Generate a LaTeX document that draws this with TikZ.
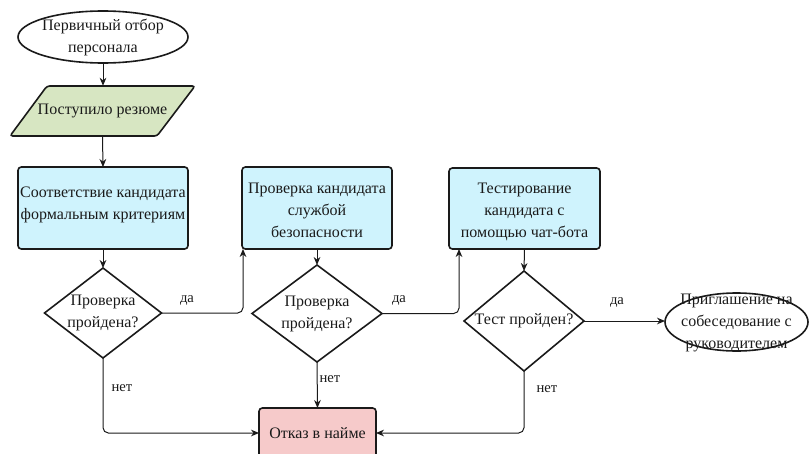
\documentclass[tikz,border=0pt]{standalone}
\usepackage{fontspec}
\setmainfont{Liberation Serif}
\usetikzlibrary{shapes.geometric,arrows.meta,calc}
\definecolor{cgreen}{HTML}{D7E6C2}
\definecolor{ccyan}{HTML}{CFF3FD}
\definecolor{cpink}{HTML}{F6CACA}
\definecolor{cline}{HTML}{1A1A1A}
\tikzset{
  shp/.style={draw=cline, line width=1.2pt, inner sep=0pt, outer sep=0pt},
  txt/.style={font=\fontsize{12}{16.5}\selectfont, align=center, inner sep=0pt, text=cline},
  stepbox/.style={shp, rectangle, rounded corners=2.5pt},
  oval/.style={shp, ellipse},
  dia/.style={shp, diamond},
  conn/.style={draw=cline, line width=0.75pt, rounded corners=4pt, -{Stealth[length=6pt,width=5pt]}},
  lbl/.style={font=\fontsize{11}{13}\selectfont, text=cline, inner sep=0pt}
}
\begin{document}
\begin{tikzpicture}[x=0.75pt,y=-0.75pt]
\useasboundingbox (0,0) rectangle (809,453);
\clip (0,0) rectangle (809,453);

% start ellipse
\node[oval, minimum width=127.5pt, minimum height=39pt,
  label={[txt]center:Первичный отбор\\персонала}] (s) at (103,37) {};

% parallelogram
\node[inner sep=0pt, minimum width=138.75pt, minimum height=37.5pt] (p) at (102.5,111) {};
\draw[shp, fill=cgreen, rounded corners=2pt] (47,86) -- (195,86) -- (157,136) -- (10,136) -- cycle;
\node[txt] (pt) at (p.center) {Поступило резюме};

% boxes
\node[stepbox, fill=ccyan, minimum width=127.5pt, minimum height=61.5pt,
  label={[txt, yshift=2pt]center:Соответствие кандидата\\формальным критериям}] (b1) at (103,208) {};
\node[stepbox, fill=ccyan, minimum width=112.5pt, minimum height=61.5pt,
  label={[txt, yshift=-2pt]center:Проверка кандидата\\службой\\безопасности}] (b2) at (317,208) {};
\node[stepbox, fill=ccyan, minimum width=113.25pt, minimum height=60.75pt,
  label={[txt, yshift=-2.5pt]center:Тестирование\\кандидата с\\помощью чат-бота}] (b3) at (524.5,208.5) {};

% diamonds
\node[dia, minimum width=87.75pt, minimum height=67.5pt,
  label={[txt]center:Проверка\\пройдена?}] (d1) at (103,313) {};
\node[dia, minimum width=97.5pt, minimum height=72.75pt,
  label={[txt]center:Проверка\\пройдена?}] (d2) at (317,313.5) {};
\node[dia, minimum width=90pt, minimum height=75pt,
  label={[txt]center:Тест пройден?}] (d3) at (524,321) {};

% end ellipse
\node[oval, minimum width=107.25pt, minimum height=43.5pt,
  label={[txt, yshift=-1pt]center:Приглашение на\\собеседование с\\руководителем}] (e) at (736.5,322) {};

% reject
\node[stepbox, fill=cpink, minimum width=87.75pt, minimum height=37.5pt,
  label={[txt]center:Отказ в найме}] (r) at (317.5,433) {};

% connectors
\draw[conn] (s) -- (s |- p.north);
\draw[conn] (p.south) -- (b1.north);
\draw[conn] (b1.south) -- (d1.north);
\draw[conn] (d1.east) -| ($(b2.south west)+(1,0)$);
\draw[conn] (d1.south) |- (r.west);
\draw[conn] (b2.south) -- (d2.north);
\draw[conn] (d2.east) -| ($(b3.south west)+(10,0)$);
\draw[conn] (d2.south) -- (r.north);
\draw[conn] (b3.south) -- (d3.north);
\draw[conn] (d3.east) -- (d3.east -| e.west);
\draw[conn] (d3.south) |- (r.east);

% labels
\node[lbl] (l1) at (187,300) {да};
\node[lbl] (l2) at (122,388) {нет};
\node[lbl] (l3) at (399,300) {да};
\node[lbl] (l4) at (330,379) {нет};
\node[lbl] (l5) at (617,302) {да};
\node[lbl] (l6) at (547,389) {нет};
\end{tikzpicture}
\end{document}
